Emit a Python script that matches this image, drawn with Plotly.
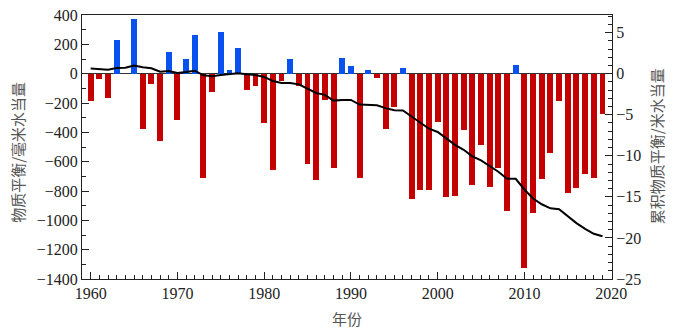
import plotly.graph_objects as go

# Annual mass balance (mm w.e.) and cumulative mass balance (m w.e.), 1960-2019
years = list(range(1960, 2020))
annual_mb = [
    -188, -36, -168, 231, 0, 372, -375, -70, -456, 145,
    -313, 100, 261, -708, -125, 286, 27, 177, -111, -86,
    -338, -654, -48, 100, -82, -613, -724, -177, -645, 107,
    52, -708, 23, -32, -379, -229, 41, -856, -790, -790,
    -331, -840, -835, -384, -756, -488, -774, -642, -933, 61,
    -1328, -947, -715, -538, -188, -817, -781, -681, -713, -275,
]
cumulative_mb = [
    0.64, 0.60, 0.49, 0.69, 0.73, 1.00, 0.77, 0.65, 0.24, 0.32,
    0.08, 0.20, 0.36, -0.20, -0.32, -0.16, -0.08, 0.04, -0.08, -0.16,
    -0.40, -0.89, -1.13, -1.13, -1.30, -1.86, -2.35, -2.58, -3.28, -3.20,
    -3.20, -3.76, -3.80, -3.84, -4.20, -4.45, -4.49, -5.20, -5.95, -6.70,
    -7.10, -7.85, -8.66, -9.27, -10.07, -10.56, -11.29, -11.94, -12.80, -12.80,
    -14.10, -15.20, -15.90, -16.40, -16.50, -17.40, -18.20, -18.90, -19.50, -19.80,
]

left_ticks = list(range(-1400, 401, 200))
right_ticks = list(range(-25, 6, 5))
x_ticks = list(range(1960, 2021, 10))

RED = "rgb(196,0,0)"
BLUE = "rgb(10,82,240)"
TICK_FONT = dict(family="Liberation Serif", size=16, color="#222")
CJK_FONT = dict(family="Noto Sans CJK SC", size=15, color="#555")

bar_colors = [BLUE if v > 0 else RED for v in annual_mb]

fig = go.Figure()
fig.add_trace(go.Bar(
    x=years, y=annual_mb, marker=dict(color=bar_colors, line=dict(width=0)),
    width=0.68, yaxis="y", showlegend=False,
))
fig.add_trace(go.Scatter(
    x=years, y=cumulative_mb, mode="lines", yaxis="y2",
    line=dict(color="black", width=2), showlegend=False,
))

axis_common = dict(
    showline=True, linecolor="#222", linewidth=1, ticks="inside",
    tickcolor="#222", ticklen=7, tickwidth=1, showgrid=False,
    tickfont=TICK_FONT, automargin=False,
)

fig.update_layout(
    width=682, height=331,
    margin=dict(l=82, r=70, t=15, b=52, autoexpand=False),
    plot_bgcolor="white", paper_bgcolor="white",
    bargap=0,
    xaxis=dict(
        range=[1959, 2020.1], tickvals=x_ticks, mirror=True,
        minor=dict(ticks="inside", dtick=1, ticklen=4, tickcolor="#222"),
        zeroline=False, **axis_common,
    ),
    yaxis=dict(
        range=[-1400, 400], tickvals=left_ticks,
        minor=dict(ticks="inside", dtick=100, ticklen=4, tickcolor="#222"),
        zeroline=True, zerolinecolor="#333", zerolinewidth=1,
        **axis_common,
    ),
    yaxis2=dict(
        range=[-25, 25 * 400 / 1400], tickvals=right_ticks, overlaying="y",
        side="right",
        minor=dict(ticks="inside", dtick=1, ticklen=4, tickcolor="#222"),
        zeroline=False, **axis_common,
    ),
    annotations=[
        dict(text="物质平衡/毫米水当量", xref="paper", yref="paper",
             x=(18 - 82) / 530, y=0.478, textangle=-90, showarrow=False,
             font=CJK_FONT, xanchor="center", yanchor="middle"),
        dict(text="累积物质平衡/米水当量", xref="paper", yref="paper",
             x=(656 - 82) / 530, y=0.503, textangle=-90, showarrow=False,
             font=CJK_FONT, xanchor="center", yanchor="middle"),
        dict(text="年份", xref="paper", yref="paper",
             x=(347 - 82) / 530, y=-(318 - 279) / 264, showarrow=False,
             font=CJK_FONT, xanchor="center", yanchor="middle"),
    ],
)

fig.write_html("out.html")
